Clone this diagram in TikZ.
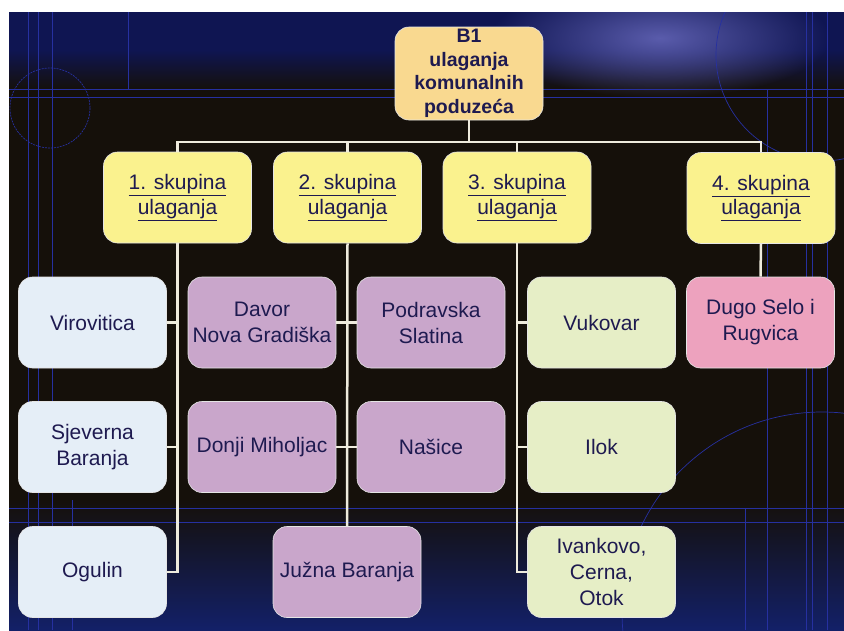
\documentclass[tikz,border=0pt]{standalone}
\usepackage{fontspec}
\setmainfont{Liberation Sans}
\usetikzlibrary{fadings}
\tikzfading[name=glowfade, inner color=transparent!0, outer color=transparent!100]
\definecolor{bgdark}{HTML}{15100A}
\definecolor{navy}{HTML}{0F1552}
\definecolor{navybot}{HTML}{132068}
\definecolor{glow}{HTML}{5A5CAC}
\definecolor{bgline}{HTML}{2630A0}
\definecolor{topfill}{HTML}{F9D990}
\definecolor{grpfill}{HTML}{FAF28E}
\definecolor{bluefill}{HTML}{E5EEF7}
\definecolor{purplefill}{HTML}{C9A6CB}
\definecolor{greenfill}{HTML}{E6EEC6}
\definecolor{pinkfill}{HTML}{EDA2BE}
\definecolor{txt}{HTML}{1E1A50}
\definecolor{conncol}{HTML}{EEEBDD}
\begin{document}
\begin{tikzpicture}[x=1pt,y=-1pt,
  box/.style={rounded corners=14pt, minimum width=148pt, minimum height=91pt,
    draw=white!80!gray, line width=0.6pt, align=center, text=txt, inner sep=2pt,
    font=\fontsize{21}{26}\selectfont},
  topbox/.style={box, fill=topfill, minimum height=93pt, inner sep=0pt,
    font=\bfseries\fontsize{19.5}{23.5}\selectfont},
  grpbox/.style={box, fill=grpfill, font=\fontsize{21}{24.5}\selectfont},
  bluebox/.style={box, fill=bluefill},
  purplebox/.style={box, fill=purplefill},
  greenbox/.style={box, fill=greenfill},
  pinkbox/.style={box, fill=pinkfill},
  conn/.style={draw=conncol, line width=2.5pt},
  bgl/.style={draw=bgline, line width=0.7pt}
]
\useasboundingbox (0,0) rectangle (844,630);
\fill[white] (0,0) rectangle (844,630);
% background
\begin{scope}
\clip (9,12) rectangle (844,630);
\fill[bgdark] (9,12) rectangle (844,630);
\fill[navy] (9,12) rectangle (844,50);
\shade[top color=navy, bottom color=bgdark] (9,50) rectangle (844,90);
\fill[glow, path fading=glowfade] (660,38) ellipse (170 and 60);
\shade[top color=bgdark, bottom color=navybot] (9,500) rectangle (844,630);
\draw[bgl] (9,89) -- (844,89);
\draw[bgl] (9,97) -- (844,97);
\draw[bgl] (9,508) -- (844,508);
\draw[bgl] (9,522) -- (844,522);
\draw[bgl] (28,12) -- (28,630);
\draw[bgl] (38,12) -- (38,630);
\draw[bgl] (52,12) -- (52,630);
\draw[bgl] (128,12) -- (128,89);
\draw[bgl] (72,500) -- (72,630);
\draw[bgl] (806,12) -- (806,630);
\draw[bgl] (812,12) -- (812,630);
\draw[bgl] (827,12) -- (827,630);
\draw[bgl] (767,89) -- (767,630);
\draw[bgl] (745,508) -- (745,630);
\draw[bgl, dash pattern=on 2pt off 1pt] (50,108) circle (40);
\draw[bgl] (822,55) circle (106);
\draw[bgl] (822,612) circle (200);
\end{scope}
% nodes
\node[topbox] (top) at (469,73.5) {B1\\ulaganja\\komunalnih\\poduzeća};
\node[grpbox] (g1) at (177.5,197.5) {\underline{1. skupina}\\\underline{ulaganja}};
\node[grpbox] (g2) at (347.5,197.5) {\underline{2. skupina}\\\underline{ulaganja}};
\node[grpbox] (g3) at (517,197.5) {\underline{3. skupina}\\\underline{ulaganja}};
\node[grpbox] (g4) at (761,198) {\underline{4. skupina}\\\underline{ulaganja}};
\node[bluebox] (a1) at (92.5,322.5) {Virovitica};
\node[bluebox] (a2) at (92.5,447) {Sjeverna\\Baranja};
\node[bluebox] (a3) at (92.5,572) {Ogulin};
\node[purplebox] (b1) at (262,322.5) {Davor\\Nova Gradiška};
\node[purplebox] (b2) at (262,447) {Donji Miholjac};
\node[purplebox] (c1) at (431,322.5) {Podravska\\Slatina};
\node[purplebox] (c2) at (431,447) {Našice};
\node[purplebox] (jb) at (347,572) {Južna Baranja};
\node[greenbox] (d1) at (601.5,322.5) {Vukovar};
\node[greenbox] (d2) at (601.5,447) {Ilok};
\node[greenbox] (d3) at (601.5,572) {Ivankovo,\\Cerna,\\Otok};
\node[pinkbox] (e1) at (760.5,322.5) {Dugo Selo i\\Rugvica};
% connectors
\coordinate (bus) at (469,142);
\draw[conn] (top.south) -- (bus) -| (g1.north);
\draw[conn] (bus) -| (g2.north);
\draw[conn] (bus) -| (g3.north);
\draw[conn] (bus) -| (g4.north);
\draw[conn] (g1.south) |- (a3.east);
\draw[conn] (g1.south) |- (a1.east);
\draw[conn] (g1.south) |- (a2.east);
\draw[conn] (g2.south) -- (jb.north);
\draw[conn] (b1.east) -- (c1.west);
\draw[conn] (b2.east) -- (c2.west);
\draw[conn] (g3.south) |- (d3.west);
\draw[conn] (g3.south) |- (d1.west);
\draw[conn] (g3.south) |- (d2.west);
\draw[conn] (g4.south) -- (e1.north);
\end{tikzpicture}
\end{document}
